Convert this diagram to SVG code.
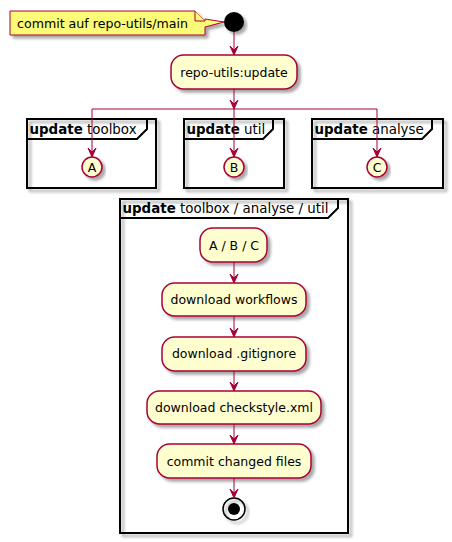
<svg xmlns="http://www.w3.org/2000/svg" width="452" height="542" viewBox="0 0 452 542">
<defs>
<filter id="sh" x="-10%" y="-10%" width="130%" height="140%">
<feGaussianBlur in="SourceAlpha" stdDeviation="1.5"/>
<feOffset dx="3" dy="3" result="b"/>
<feComponentTransfer><feFuncA type="linear" slope="0.35"/></feComponentTransfer>
<feMerge><feMergeNode/><feMergeNode in="SourceGraphic"/></feMerge>
</filter>
</defs>
<style>
text{font-family:"DejaVu Sans","Liberation Sans",sans-serif;fill:#000}
.act{fill:#FEFECE;stroke:#A80036;stroke-width:1.5}
.t{font-size:12.5px;text-anchor:middle}
.fr{fill:none;stroke:#000;stroke-width:2}
.fl{font-size:13.4px}
.cn{stroke:#A80036;stroke-width:1;fill:none}
.hd{fill:#A80036;stroke:#A80036;stroke-width:1}
</style>
<g id="note">
<path d="M10,11 L195,11 L205,21 L205,19 L224,22 L205,27 L205,35 L10,35 Z" fill="#FBFB77" stroke="#A80036" stroke-width="1" filter="url(#sh)"/>
<path d="M195,11 L195,21 L205,21" fill="#FBFB77" stroke="#A80036" stroke-width="1"/>
<text x="17" y="28" font-size="12.6px">commit auf repo-utils/main</text>
</g>
<g id="start"><circle cx="234" cy="22" r="10" fill="#000" filter="url(#sh)"/></g>
<g id="update"><rect class="act" x="171" y="55" width="126" height="34" rx="12.5" filter="url(#sh)"/><text class="t" x="234" y="77">repo-utils:update</text></g>
<g id="frame-toolbox">
<rect class="fr" x="27" y="119" width="129" height="69" filter="url(#sh)"/>
<path class="fr" d="M27,139 L137,139 L147,129 L147,119"/>
<text class="fl" x="29.5" y="134"><tspan font-weight="bold">update</tspan> toolbox</text>
</g>
<g id="frame-util">
<rect class="fr" x="184" y="119" width="100" height="69" filter="url(#sh)"/>
<path class="fr" d="M184,139 L263,139 L273,129 L273,119"/>
<text class="fl" x="186.5" y="134"><tspan font-weight="bold">update</tspan> util</text>
</g>
<g id="frame-analyse">
<rect class="fr" x="312" y="119" width="131" height="69" filter="url(#sh)"/>
<path class="fr" d="M312,139 L422,139 L432,129 L432,119"/>
<text class="fl" x="314.5" y="134"><tspan font-weight="bold">update</tspan> analyse</text>
</g>
<g id="A"><circle class="act" cx="92" cy="167" r="10" filter="url(#sh)"/><text class="t" x="92" y="171.5" font-size="12px">A</text></g>
<g id="B"><circle class="act" cx="234" cy="167" r="10" filter="url(#sh)"/><text class="t" x="234" y="171.5" font-size="12px">B</text></g>
<g id="C"><circle class="act" cx="377" cy="167" r="10" filter="url(#sh)"/><text class="t" x="377" y="171.5" font-size="12px">C</text></g>
<g id="frame-main">
<rect class="fr" x="120" y="199" width="228" height="334" filter="url(#sh)"/>
<path class="fr" d="M120,218 L328,218 L338,208 L338,199"/>
<text class="fl" x="122.5" y="213"><tspan font-weight="bold">update</tspan> toolbox / analyse / util</text>
</g>
<g id="abc"><rect class="act" x="200" y="228" width="67" height="34" rx="12.5" filter="url(#sh)"/><text class="t" x="234" y="250">A / B / C</text></g>
<g id="workflows"><rect class="act" x="162" y="283" width="144" height="33" rx="12.5" filter="url(#sh)"/><text class="t" x="234" y="304">download workflows</text></g>
<g id="gitignore"><rect class="act" x="162" y="337" width="144" height="34" rx="12.5" filter="url(#sh)"/><text class="t" x="234" y="358">download .gitignore</text></g>
<g id="checkstyle"><rect class="act" x="147" y="391" width="174" height="33" rx="12.5" filter="url(#sh)"/><text class="t" x="234" y="412">download checkstyle.xml</text></g>
<g id="commit"><rect class="act" x="157" y="444" width="154" height="34" rx="12.5" filter="url(#sh)"/><text class="t" x="234" y="466">commit changed files</text></g>
<g id="end"><circle cx="234" cy="509" r="11" fill="none" stroke="#000" stroke-width="1.5" filter="url(#sh)"/><circle cx="234" cy="509" r="6" fill="#000"/></g>
<g id="connectors">
<path class="cn" d="M234,32 L234,55"/><path class="hd" d="M230,46 L234,55 L238,46 L234,50 Z"/>
<path class="cn" d="M234,89 L234,109"/><path class="hd" d="M230,100 L234,109 L238,100 L234,104 Z"/>
<path class="cn" d="M92,109 L377,109"/>
<path class="cn" d="M92,109 L92,157"/><path class="hd" d="M88,148 L92,157 L96,148 L92,152 Z"/>
<path class="cn" d="M234,109 L234,157"/><path class="hd" d="M230,148 L234,157 L238,148 L234,152 Z"/>
<path class="cn" d="M377,109 L377,157"/><path class="hd" d="M373,148 L377,157 L381,148 L377,152 Z"/>
<path class="cn" d="M234,262 L234,283"/><path class="hd" d="M230,274 L234,283 L238,274 L234,278 Z"/>
<path class="cn" d="M234,316 L234,337"/><path class="hd" d="M230,328 L234,337 L238,328 L234,332 Z"/>
<path class="cn" d="M234,371 L234,391"/><path class="hd" d="M230,382 L234,391 L238,382 L234,386 Z"/>
<path class="cn" d="M234,424 L234,444"/><path class="hd" d="M230,435 L234,444 L238,435 L234,439 Z"/>
<path class="cn" d="M234,478 L234,498"/><path class="hd" d="M230,489 L234,498 L238,489 L234,493 Z"/>
</g>
</svg>
